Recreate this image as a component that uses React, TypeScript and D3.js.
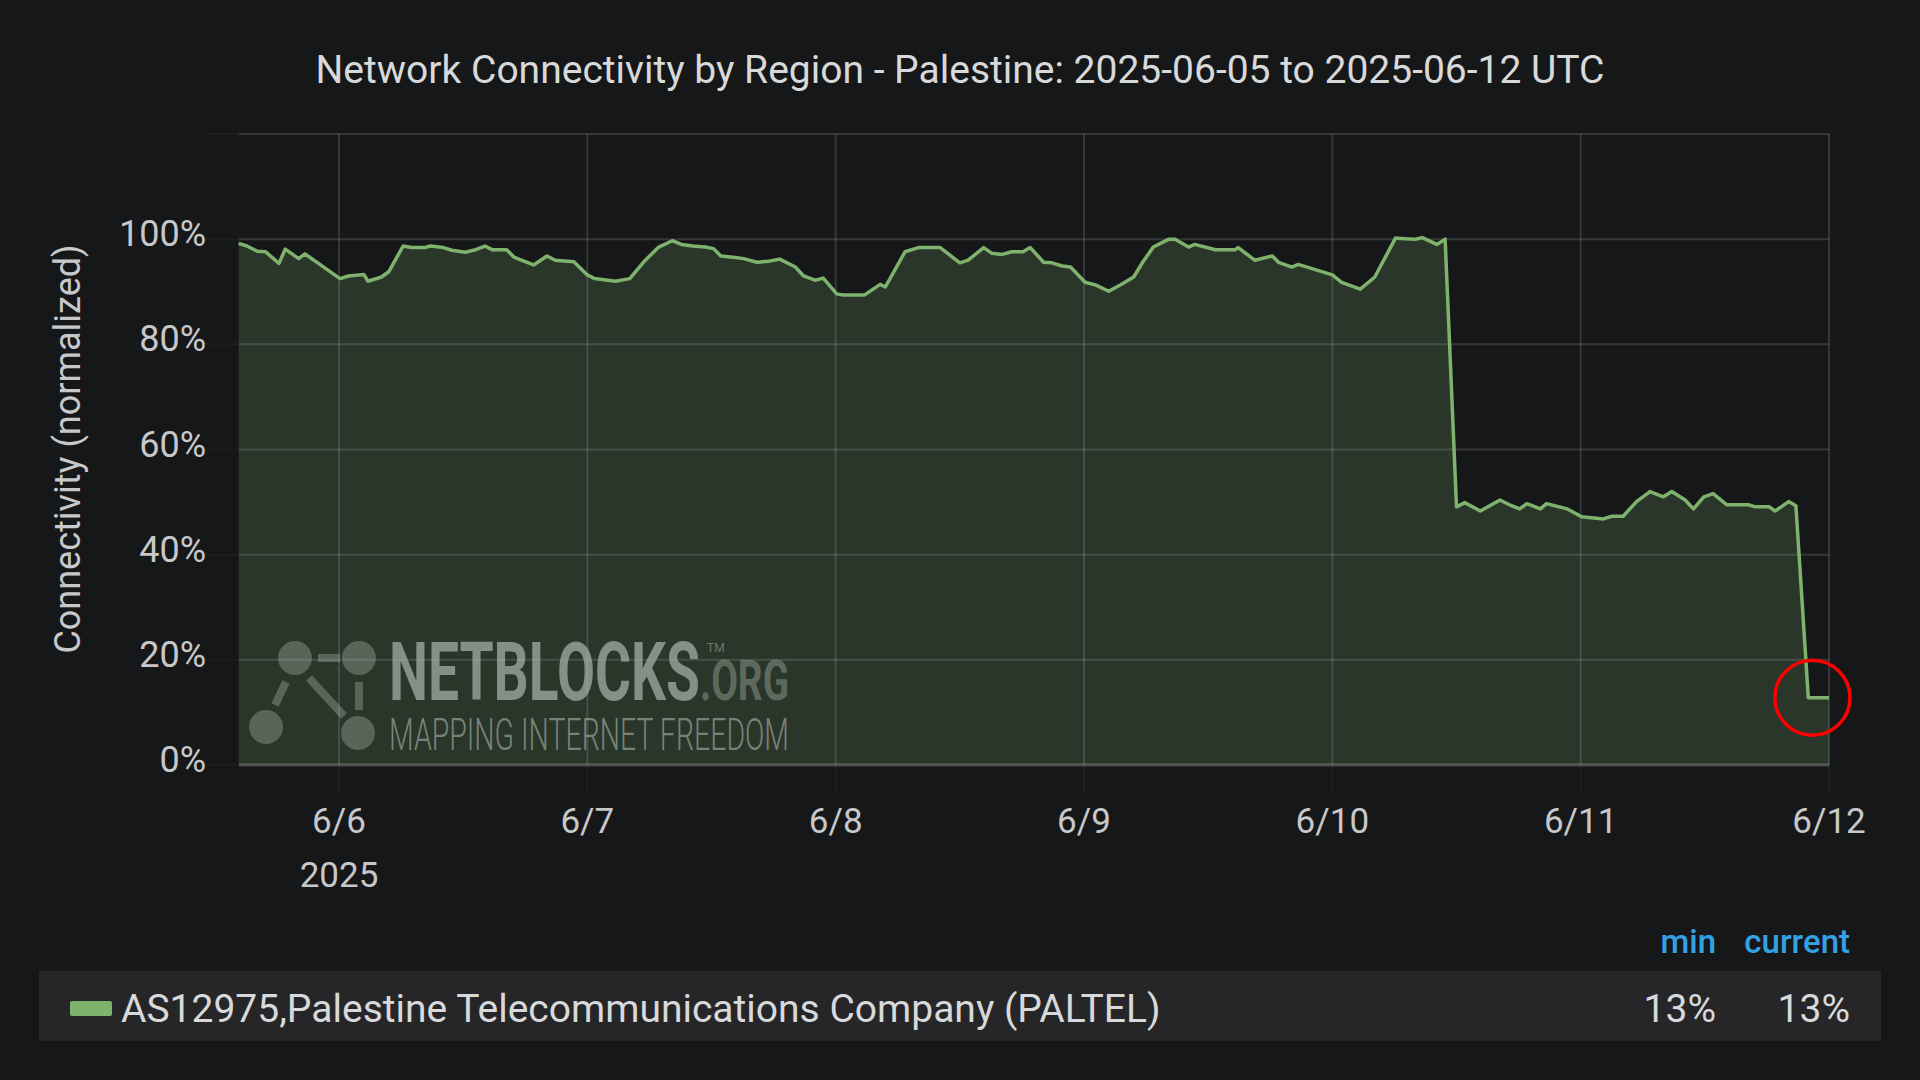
import React from "react";
import * as d3 from "d3";

const TITLE = "Network Connectivity by Region - Palestine: 2025-06-05 to 2025-06-12 UTC";
const SERIES_NAME = "AS12975,Palestine Telecommunications Company (PALTEL)";
const Y_LABEL = "Connectivity (normalized)";
const Y_TICKS = [0, 20, 40, 60, 80, 100];
const LEGEND_HEADERS = ["min", "current"];

// hours since 2025-06-05 00:00 UTC
const hours = [
  14.3, 15.1, 16.1, 16.9, 18.2, 18.8, 20.1, 20.7, 24.1, 24.9, 26.4, 26.8, 28.1, 28.8,
  30.2, 31.0, 32.3, 32.8, 34.1, 34.9, 36.2, 37.2, 38.1, 38.8, 40.2, 40.9, 42.8, 44.1,
  44.9, 46.7, 48.0, 48.7, 50.7, 52.1, 53.6, 54.9, 56.2, 57.1, 58.2, 59.4, 60.2, 60.9,
  62.3, 63.1, 64.4, 65.5, 66.6, 68.1, 68.9, 70.0, 70.8, 72.1, 72.7, 74.8, 76.3, 76.8,
  78.7, 80.0, 82.1, 84.0, 84.8, 86.3, 87.1, 88.1, 89.0, 90.1, 90.8, 92.1, 92.9, 93.9,
  94.7, 96.1, 97.1, 98.4, 99.5, 100.8, 101.7, 102.7, 104.2, 104.8, 106.1, 106.7, 108.7,
  110.6, 110.9, 112.5, 114.2, 114.8, 116.1, 116.7, 120.0, 120.9, 122.7, 124.1, 126.1,
  127.0, 128.0, 128.7, 130.1, 130.9, 132.0, 132.8, 134.3, 136.2, 137.2, 138.1, 138.8,
  140.1, 140.7, 142.7, 144.1, 146.2, 147.0, 148.1, 149.4, 150.7, 152.0, 152.8, 154.1,
  154.9, 155.9, 156.8, 158.1, 160.2, 160.9, 162.2, 162.8, 164.1, 164.8, 166.0, 168.0,
];
const values = [
  99.2, 98.7, 97.7, 97.6, 95.4, 98.1, 96.3, 97.2, 92.5, 93.0, 93.3, 92.0, 92.8, 93.8,
  98.7, 98.4, 98.4, 98.7, 98.4, 97.9, 97.5, 98.0, 98.7, 98.0, 98.0, 96.6, 95.1, 96.8,
  96.0, 95.7, 93.2, 92.5, 92.0, 92.5, 96.0, 98.5, 99.7, 99.0, 98.7, 98.5, 98.2, 96.8,
  96.5, 96.3, 95.6, 95.8, 96.2, 94.7, 93.0, 92.2, 92.6, 89.6, 89.4, 89.4, 91.4, 90.9,
  97.6, 98.4, 98.4, 95.5, 96.0, 98.4, 97.3, 97.1, 97.6, 97.6, 98.4, 95.6, 95.5, 94.9,
  94.7, 91.8, 91.3, 90.1, 91.3, 92.8, 95.7, 98.5, 100.0, 100.0, 98.5, 99.0, 98.0,
  98.0, 98.4, 96.0, 96.8, 95.6, 94.7, 95.2, 93.2, 91.8, 90.5, 92.8, 100.2,
  100.1, 100.0, 100.3, 99.0, 100.0, 49.1, 49.9, 48.3, 50.4, 49.4, 48.7, 49.7,
  48.7, 49.7, 48.7, 47.2, 46.8, 47.3, 47.3, 50.1, 52.0, 51.0, 52.0, 50.4,
  48.7, 51.0, 51.6, 49.5, 49.5, 49.1, 49.1, 48.3, 50.1, 49.3, 12.8, 12.8,
];

// highlighted moment (hours since 2025-06-05 00:00 UTC)
const HIGHLIGHT_HOUR = 166.4;

const BASE = Date.UTC(2025, 5, 5);
const START = new Date(Date.UTC(2025, 5, 5, 14, 20));
const END = new Date(Date.UTC(2025, 5, 12, 0, 0));

const BG = "#161719";
const GREEN = "#7eb26d";
const GRID = "rgba(200,200,200,0.18)";
const TEXT = "#d8d9da";
const TICK = "#c7c8ca";
const BLUE = "#33a2e5";
const FONT = "Roboto, 'Noto Sans', sans-serif";

export default function App() {
  const W = 1920;
  const H = 1080;
  const left = 239;
  const right = 1829;
  const top = 134;
  const bottom = 765;

  const x = d3.scaleUtc().domain([START, END]).range([left, right]);
  const y = d3.scaleLinear().domain([0, 120]).range([bottom, top]);

  const data = hours.map((h, i) => ({ t: new Date(BASE + h * 3600e3), v: values[i] }));
  const line = d3
    .line<{ t: Date; v: number }>()
    .x((d) => x(d.t))
    .y((d) => y(d.v));
  const area = d3
    .area<{ t: Date; v: number }>()
    .x((d) => x(d.t))
    .y0(y(0))
    .y1((d) => y(d.v));

  const days = d3.utcDay.range(d3.utcDay.ceil(START), d3.utcDay.offset(END, 1));
  const fmt = d3.utcFormat("%-m/%-d");
  const gridY = [...Y_TICKS, 120];

  const minV = d3.min(values) as number;
  const curV = values[values.length - 1];
  const last = data[data.length - 1];
  const circ = { cx: x(new Date(BASE + HIGHLIGHT_HOUR * 3600e3)), cy: y(last.v) };

  const wmColor = "#b4beb4";

  return (
    <svg
      width={W}
      height={H}
      style={{ position: "absolute", left: 0, top: 0, background: BG, display: "block" }}
      fontFamily={FONT}
    >
      <rect x={0} y={0} width={W} height={H} fill={BG} />
      <text x={960} y={83} textAnchor="middle" fill={TEXT} fontSize={39}>
        {TITLE}
      </text>

      {/* area */}
      <path d={area(data) || ""} fill={GREEN} fillOpacity={0.2} />

      {/* grid */}
      {gridY.map((v) => (
        <g key={"gy" + v}>
          <line
            x1={left - 36}
            x2={left}
            y1={y(v)}
            y2={y(v)}
            stroke="rgba(200,200,200,0.035)"
            strokeWidth={2}
          />
          <line
            x1={left}
            x2={right}
            y1={y(v)}
            y2={y(v)}
            stroke={v === 0 ? "rgba(200,200,200,0.28)" : GRID}
            strokeWidth={v === 0 ? 3 : 2}
          />
        </g>
      ))}
      {days.map((d) => (
        <g key={"gx" + d.toISOString()}>
          <line x1={x(d)} x2={x(d)} y1={top} y2={bottom} stroke={GRID} strokeWidth={2} />
          <line
            x1={x(d)}
            x2={x(d)}
            y1={bottom}
            y2={bottom + 28}
            stroke="rgba(200,200,200,0.05)"
            strokeWidth={2}
          />
        </g>
      ))}

      {/* watermark */}
      <g fill={wmColor} stroke={wmColor}>
        <g fillOpacity={0.35} strokeOpacity={0.35} strokeWidth={8}>
          <circle cx={295} cy={658} r={17} stroke="none" />
          <circle cx={359} cy={658} r={17} stroke="none" />
          <circle cx={266} cy={727} r={17} stroke="none" />
          <circle cx={358} cy={733} r={17} stroke="none" />
          <line x1={318} y1={658} x2={340} y2={658} />
          <line x1={286} y1={682} x2={275} y2={705} />
          <line x1={309} y1={678} x2={344} y2={716} />
          <line x1={359} y1={682} x2={359} y2={710} />
        </g>
        <text
          x={389}
          y={700}
          fontSize={82}
          fontWeight={700}
          textLength={311}
          lengthAdjust="spacingAndGlyphs"
          stroke="none"
          fillOpacity={0.66}
        >
          NETBLOCKS
        </text>
        <text
          x={700}
          y={700}
          fontSize={56}
          fontWeight={700}
          textLength={89}
          lengthAdjust="spacingAndGlyphs"
          stroke="none"
          fillOpacity={0.4}
        >
          .ORG
        </text>
        <text x={707} y={652} fontSize={12} stroke="none" fillOpacity={0.5}>
          TM
        </text>
        <text
          x={389}
          y={750}
          fontSize={45}
          fontWeight={300}
          textLength={400}
          lengthAdjust="spacingAndGlyphs"
          stroke="none"
          fillOpacity={0.58}
        >
          MAPPING INTERNET FREEDOM
        </text>
      </g>

      {/* line */}
      <path d={line(data) || ""} fill="none" stroke={GREEN} strokeWidth={3.5} strokeLinejoin="round" />

      {/* red circle */}
      <circle cx={circ.cx} cy={circ.cy} r={37.5} fill="none" stroke="#ff0000" strokeWidth={3.5} />

      {/* y ticks */}
      {Y_TICKS.map((v) => (
        <text key={"yt" + v} x={206} y={y(v) + 7} textAnchor="end" fill={TICK} fontSize={36}>
          {v}%
        </text>
      ))}
      <text
        transform={`translate(80, 449) rotate(-90)`}
        textAnchor="middle"
        fill={TICK}
        fontSize={36}
      >
        {Y_LABEL}
      </text>

      {/* x ticks */}
      {days.map((d) => (
        <text key={"xt" + d.toISOString()} x={x(d)} y={833} textAnchor="middle" fill={TICK} fontSize={35}>
          {fmt(d)}
        </text>
      ))}
      <text x={x(days[0])} y={887} textAnchor="middle" fill={TICK} fontSize={35}>
        {d3.utcFormat("%Y")(days[0])}
      </text>

      {/* legend */}
      <text x={1716} y={953} textAnchor="end" fill={BLUE} fontSize={33} fontWeight={500}>
        {LEGEND_HEADERS[0]}
      </text>
      <text x={1850} y={953} textAnchor="end" fill={BLUE} fontSize={33} fontWeight={500}>
        {LEGEND_HEADERS[1]}
      </text>
      <rect x={39} y={971} width={1842} height={70} fill="#262628" />
      <rect x={70} y={1001} width={42} height={15} rx={2} fill={GREEN} />
      <text x={121} y={1022} fill={TEXT} fontSize={39}>
        {SERIES_NAME}
      </text>
      <text x={1716} y={1022} textAnchor="end" fill={TEXT} fontSize={39}>
        {Math.round(minV)}%
      </text>
      <text x={1850} y={1022} textAnchor="end" fill={TEXT} fontSize={39}>
        {Math.round(curV)}%
      </text>
    </svg>
  );
}
